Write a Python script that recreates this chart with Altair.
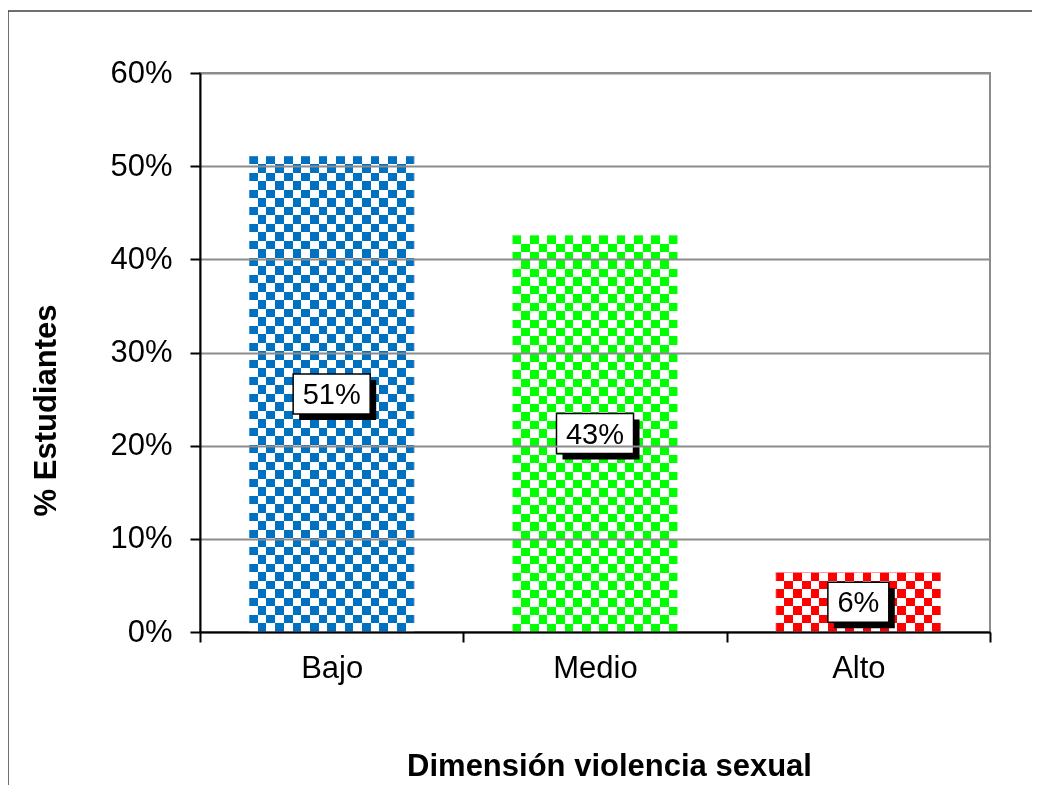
import altair as alt
import pandas as pd

# ---- data ----
categories = ["Bajo", "Medio", "Alto"]
values = [0.511, 0.426, 0.064]
bar_colors = ["#0070C0", "#00FF00", "#FF0000"]
edge_colors = ["#7fb3e3", "#99ff99", "#ff9999"]
y_ticks = [0, 0.1, 0.2, 0.3, 0.4, 0.5, 0.6]

# ---- layout / style ----
W, H = 790, 559
YMAX = 0.6
CELL = 8.5
BAR_BAND = 0.627
FONT = "Liberation Sans"
LABEL_SIZE = 29
BOX_UNIT = 20  # half of box height in px

step = W / len(categories)
bar_px = step * BAR_BAND
n_cols = round(bar_px / CELL)


def text_width(s):
    widths = {"%": 0.889}
    return sum(widths.get(c, 0.556) for c in s) * LABEL_SIZE


labels = [f"{round(v * 100):.0f}%" for v in values]
paths = []
for lab in labels:
    hw = (text_width(lab) + 19) / 2 / BOX_UNIT
    paths.append(f"M{-hw:.3f},-1H{hw:.3f}V1H{-hw:.3f}Z")

df = pd.DataFrame({"cat": categories, "v": values, "label": labels, "path": paths})
df["mid"] = df["v"] / 2


def stripes(n, along_x):
    stops = []
    for k in range(n):
        c = "white" if k % 2 == 0 else "black"
        stops.append(alt.GradientStop(color=c, offset=k / n))
        stops.append(alt.GradientStop(color=c, offset=(k + 1) / n))
    if along_x:
        return alt.LinearGradient(gradient="linear", stops=stops, x1=0, x2=1, y1=0, y2=0)
    return alt.LinearGradient(gradient="linear", stops=stops, x1=0, x2=0, y1=0, y2=1)


xaxis = alt.Axis(
    title="Dimensión violencia sexual", titleFont=FONT, titleFontSize=31,
    titleFontWeight="bold", titleColor="black", titleX=409, titleY=134,
    titleBaseline="middle", titleAlign="center",
    labelFont=FONT, labelFontSize=31, labelColor="black", labelAngle=0, labelPadding=11,
    domainColor="black", domainWidth=2, tickColor="black", tickWidth=2, tickSize=10,
    tickBand="extent", grid=False, zindex=1,
)
yaxis = alt.Axis(
    title="% Estudiantes", titleFont=FONT, titleFontSize=31, titleFontWeight="bold",
    titleColor="black", titleX=-154, titleY=337, titleAlign="center", titleBaseline="middle",
    values=y_ticks, format=".0%",
    labelFont=FONT, labelFontSize=31, labelColor="black", labelPadding=18,
    domainColor="black", domainWidth=2, tickColor="black", tickWidth=2, tickSize=10,
    grid=True, gridColor="#8c8c8c", gridWidth=2, zindex=1,
)

X = alt.X("cat:N", sort=categories,
          scale=alt.Scale(paddingInner=0, paddingOuter=0), axis=xaxis)
yscale = alt.Scale(domain=[0, YMAX])
Yv = alt.Y("v:Q", scale=yscale, axis=yaxis)
Ym = alt.Y("mid:Q", scale=yscale, axis=yaxis)
BW = alt.RelativeBandSize(BAR_BAND)

layers = []
for cat, v, col, edge in zip(categories, values, bar_colors, edge_colors):
    n_rows = max(1, round(v / YMAX * H / CELL))
    base = alt.Chart(df).transform_filter(alt.datum.cat == cat)
    layers.append(base.mark_bar(width=BW, fill=stripes(n_cols, True)).encode(x=X, y=Yv))
    layers.append(base.mark_bar(width=BW, fill=stripes(n_rows, False),
                                blend="difference").encode(x=X, y=Yv))
    layers.append(base.mark_bar(width=BW, fill=col, blend="lighten",
                                stroke=edge, strokeWidth=1).encode(x=X, y=Yv))

shadow = alt.Chart(df).mark_point(
    filled=True, color="black", opacity=1, size=BOX_UNIT ** 2 * 4, xOffset=6, yOffset=6
).encode(x=X, y=Ym, shape=alt.Shape("path:N", scale=None))
box = alt.Chart(df).mark_point(
    filled=True, color="white", stroke="black", strokeWidth=1.5, opacity=1,
    size=BOX_UNIT ** 2 * 4
).encode(x=X, y=Ym, shape=alt.Shape("path:N", scale=None))
text = alt.Chart(df).mark_text(
    font=FONT, fontSize=LABEL_SIZE, color="black", baseline="middle", align="center", dy=1
).encode(x=X, y=Ym, text="label:N")

frame = alt.Chart(alt.Data(values=[{}])).mark_rect(
    filled=False, stroke="#404040", strokeWidth=1.5
).encode(x=alt.value(-192), x2=alt.value(900), y=alt.value(-62), y2=alt.value(900))

chart = alt.layer(*layers, shadow, box, text, frame).properties(
    width=W, height=H,
    autosize=alt.AutoSizeParams(type="none"),
    padding={"left": 192, "top": 65, "right": 42, "bottom": 153},
    background="white",
).configure_view(stroke="#8c8c8c", strokeWidth=2)

chart.save("out.html", embed_options={"renderer": "svg", "actions": False})
